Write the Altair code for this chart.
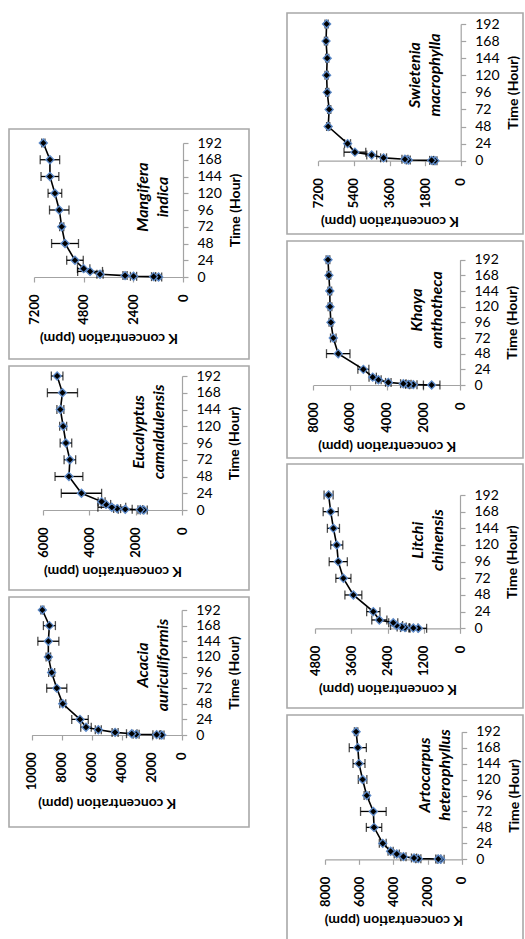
import altair as alt
import pandas as pd

W, H = 525, 939
FONT = "Lato"
GRAY = "#a3a3a3"
BOX = "#a8a8a8"

# ---------------- data ----------------
times = [0, 0.5, 1, 2, 4, 8, 12, 24, 48, 72, 96, 120, 144, 168, 192]
time_ticks = [0, 24, 48, 72, 96, 120, 144, 168, 192]

mangifera = [1180, 1420, 2390, 2800, 4010, 4490, 4800, 5220, 5700, 5860, 5980, 6190, 6430, 6430, 6750]
mangifera_err = [150, 100, 150, 100, 150, 600, 300, 400, 650, 100, 470, 330, 430, 470, 80]

eucalyptus = [1650, 1800, 2450, 2800, 3030, 3280, 3470, 4340, 4880, 4840, 5010, 5130, 5250, 5160, 5390]
eucalyptus_err = [150, 100, 300, 150, 600, 200, 150, 870, 600, 250, 250, 150, 150, 650, 250]

acacia = [1330, 1670, 3040, 3330, 4440, 5560, 6380, 6780, 7930, 8330, 8670, 8890, 8890, 8820, 9290]
acacia_err = [150, 250, 200, 350, 200, 200, 350, 550, 200, 670, 200, 150, 700, 400, 100]

swietenia = [1300, 1470, 2650, 2820, 3900, 4500, 5350, 5720, 6700, 6650, 6750, 6780, 6750, 6810, 6780]
swietenia_err = [100, 100, 100, 150, 150, 250, 550, 150, 80, 80, 80, 80, 80, 80, 80]

khaya = [1545, 2545, 2820, 3090, 3910, 4450, 4760, 5270, 6640, 6910, 7040, 7090, 7100, 7150, 7200]
khaya_err = [450, 200, 150, 150, 150, 150, 200, 300, 640, 150, 100, 100, 100, 100, 100]

litchi = [1380, 1545, 1820, 1930, 2100, 2210, 2670, 2870, 3530, 3860, 4030, 4080, 4190, 4280, 4350]
litchi_err = [275, 150, 150, 150, 200, 150, 250, 220, 280, 250, 300, 200, 200, 250, 150]

artocarpus = [1230, 1370, 2540, 2790, 3410, 3800, 4160, 4620, 5130, 5170, 5560, 5800, 6010, 6080, 6180]
artocarpus_err = [200, 150, 150, 150, 150, 150, 150, 200, 450, 750, 150, 250, 350, 500, 100]

species = ["Mangifera\nindica", "Eucalyptus\ncamaldulensis", "Acacia\nauriculiformis",
           "Swietenia\nmacrophylla", "Khaya\nanthotheca", "Litchi\nchinensis",
           "Artocarpus\nheterophyllus"]
values = [mangifera, eucalyptus, acacia, swietenia, khaya, litchi, artocarpus]
errors = [mangifera_err, eucalyptus_err, acacia_err, swietenia_err, khaya_err, litchi_err, artocarpus_err]
k_max = [7200, 6000, 10000, 7200, 8000, 4800, 8000]
k_ticks = [
    [0, 2400, 4800, 7200],
    [0, 2000, 4000, 6000],
    [0, 2000, 4000, 6000, 8000, 10000],
    [0, 1800, 3600, 5400, 7200],
    [0, 2000, 4000, 6000, 8000],
    [0, 1200, 2400, 3600, 4800],
    [0, 2000, 4000, 6000, 8000],
]
# species label anchor in data units (concentration, time)
label_k = [1957, 1835, 2613, 2311, 2345, 1390, 2148]
label_t = [114.6, 111.8, 107.5, 120.4, 115, 127, 126.8]

# ---------------- layout (pixels) ----------------
x_ranges = [(183, 34), (182, 43), (181.7, 31.7), (460.7, 318.3), (460, 313.3), (460, 315), (461.7, 325)]
y_ranges = [(277, 143), (510, 376), (735, 610), (160.7, 24), (385, 259.7), (628.3, 495), (859.3, 731.7)]
boxes = [(9, 129, 249, 359), (9, 366, 249, 590), (9, 597, 249, 827),
         (287, 13, 523, 234), (287, 241, 523, 458), (287, 464, 523, 708), (287, 715, 523, 950)]


def make_panel(i):
    df = pd.DataFrame({"t": times, "k": values[i], "err": errors[i]})
    df["lo"] = df["k"] - df["err"]
    df["hi"] = df["k"] + df["err"]

    xs = alt.Scale(domain=[0, k_max[i]], range=list(x_ranges[i]), nice=False, zero=False)
    ys = alt.Scale(domain=[0, 192], range=list(y_ranges[i]), nice=False, zero=False)

    xaxis = alt.Axis(
        orient="bottom", offset=round(y_ranges[i][0] - H, 1), values=k_ticks[i], format="d", grid=False,
        labelAngle=270, labelAlign="right", labelBaseline="middle", labelFont=FONT,
        labelFontSize=13, labelFontWeight="bold", labelColor="black", labelPadding=12,
        labelFlush=False, labelOverlap=False,
        domainColor=GRAY, domainWidth=1.2, tickColor=GRAY, tickSize=5, tickWidth=1.2,
        title="K concentration (ppm)", titleAngle=180, titleBaseline="bottom", titleFont=FONT,
        titleFontSize=14, titleFontWeight="bold", titleColor="black", titlePadding=6,
    )
    yaxis = alt.Axis(
        orient="right", offset=round(x_ranges[i][0] - W, 1), values=time_ticks, format="d", grid=False,
        labelAngle=0, labelFont=FONT, labelFontSize=14, labelColor="black", labelPadding=9,
        labelFlush=False, labelOverlap=False,
        domainColor=GRAY, domainWidth=1.2, tickColor=GRAY, tickSize=5, tickWidth=1.2,
        title="Time (Hour)", titleAngle=270, titleBaseline="top", titleFont=FONT,
        titleFontSize=14, titleFontWeight="bold", titleColor="black", titlePadding=7,
    )

    def X(f):
        return alt.X(f, type="quantitative", scale=xs, axis=xaxis)

    def Y(f):
        return alt.Y(f, type="quantitative", scale=ys, axis=yaxis)

    base = alt.Chart(df)
    line = base.mark_line(color="black", strokeWidth=1.6).encode(x=X("k"), y=Y("t"), order="t:Q")
    bars = base.mark_rule(color="black", strokeWidth=1.3).encode(x=X("lo"), x2="hi:Q", y=Y("t"))
    cap_lo = base.mark_tick(color="black", orient="vertical", size=9, thickness=1.3).encode(
        x=X("lo"), y=Y("t"))
    cap_hi = base.mark_tick(color="black", orient="vertical", size=9, thickness=1.3).encode(
        x=X("hi"), y=Y("t"))
    pts = base.mark_point(shape="diamond", filled=True, fill="black", stroke="#5d8ac8",
                          strokeWidth=1.3, size=65, opacity=1).encode(x=X("k"), y=Y("t"))
    lab_df = pd.DataFrame({"k": [label_k[i]], "t": [label_t[i]], "name": [species[i]]})
    label = alt.Chart(lab_df).mark_text(
        angle=270, font=FONT, fontSize=16, fontWeight="bold", fontStyle="italic",
        lineBreak="\n", lineHeight=20, align="center", baseline="middle", color="black",
    ).encode(x=X("k"), y=Y("t"), text="name:N")
    bx = boxes[i]
    box = alt.Chart(pd.DataFrame({"b": [0]})).mark_rect(
        fillOpacity=0, stroke=BOX, strokeWidth=1.6
    ).encode(
        x=alt.value(bx[0]), x2=alt.value(bx[2]), y=alt.value(bx[1]), y2=alt.value(bx[3])
    )
    return alt.layer(box, line, bars, cap_lo, cap_hi, pts, label)


panels = [make_panel(i) for i in range(len(species))]

chart = (
    alt.layer(*panels)
    .resolve_scale(x="independent", y="independent")
    .properties(width=W, height=H, autosize=alt.AutoSizeParams(type="none"), padding=0,
                background="white")
    .configure_view(stroke=None)
)

chart.save("out.html", embed_options={"renderer": "svg", "actions": False})
